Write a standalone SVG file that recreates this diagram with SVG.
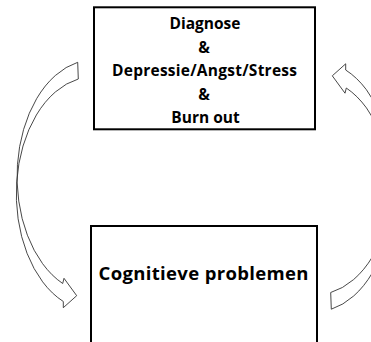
<svg xmlns="http://www.w3.org/2000/svg" width="371" height="342" viewBox="0 0 371 342">
<style>
.box{fill:#fff;stroke:#000;stroke-width:2}
.arr{fill:#fff;stroke:#333;stroke-width:0.9;stroke-linejoin:miter}
.t{font-family:"Open Sans","Liberation Sans",sans-serif;font-weight:bold;fill:#000;text-anchor:middle}
.s{font-size:15.5px}
</style>
<rect width="371" height="342" fill="#fff"/>
<g id="connectors">
<path id="arrow-left" class="arr" d="M 77.7 62.3 A 77 117 0 0 0 62.7 283.5 L 64 278.3 L 76.7 295.7 L 63.3 307.7 L 63.3 301.5 A 77 117 0 0 1 78.3 79 Z"/>
<path id="arrow-right" class="arr" transform="rotate(180 204.5 185.75)" d="M 77.7 62.3 A 77 117 0 0 0 62.7 283.5 L 64 278.3 L 76.7 295.7 L 63.3 307.7 L 63.3 301.5 A 77 117 0 0 1 78.3 79 Z"/>
</g>
<g id="node-diagnose">
<rect class="box" x="94" y="7.3" width="221" height="122"/>
<text class="t s" x="205" y="29">Diagnose</text>
<text class="t s" x="204" y="52.5">&amp;</text>
<text class="t s" x="204.5" y="76" textLength="185">Depressie/Angst/Stress</text>
<text class="t s" x="204" y="99.5">&amp;</text>
<text class="t s" x="205.5" y="123">Burn out</text>
</g>
<g id="node-cognitief">
<rect class="box" x="91" y="226" width="226" height="130"/>
<text class="t" font-size="18.5" x="203.5" y="280" textLength="210">Cognitieve problemen</text>
</g>
</svg>
